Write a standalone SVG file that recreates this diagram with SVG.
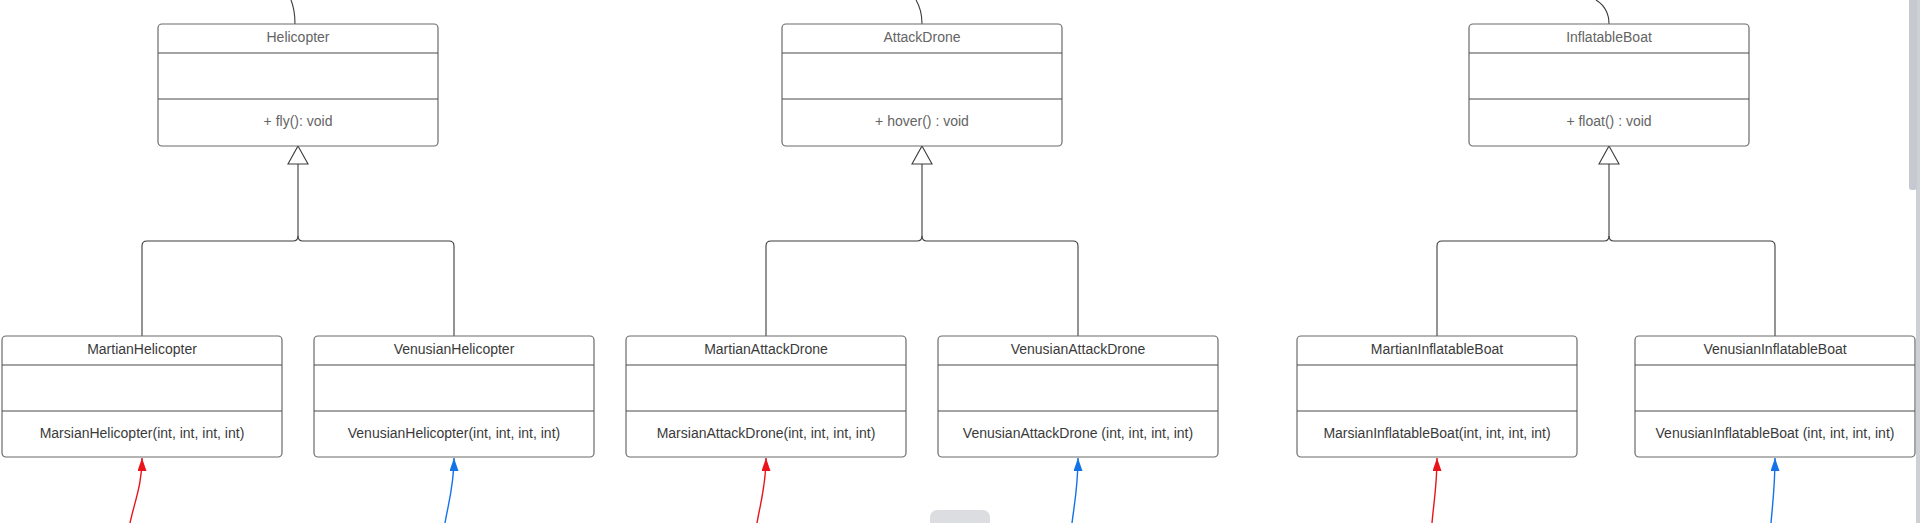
<svg xmlns="http://www.w3.org/2000/svg" width="1920" height="523" viewBox="0 0 1920 523">
<style>
.box{fill:#fff;stroke:#6b6b6b;stroke-width:1.2}
.div{stroke:#4a4a4a;stroke-width:1.2}
.t1{font-family:"Liberation Sans",Arial,sans-serif;font-size:14px;fill:#646464;text-anchor:middle}
.t2{font-family:"Liberation Sans",Arial,sans-serif;font-size:14px;fill:#3a3a3a;text-anchor:middle}
.ln{fill:none;stroke:#3c3c3c;stroke-width:1.1}
.tri{fill:#fff;stroke:#3c3c3c;stroke-width:1.1}
.red{fill:none;stroke:#e8151b;stroke-width:1.4}
.blue{fill:none;stroke:#1473e6;stroke-width:1.4}
</style>
<defs>
<marker id="ar" markerUnits="userSpaceOnUse" markerWidth="14" markerHeight="10" refX="13" refY="4.5" orient="auto"><path d="M0,0 L13,4.5 L0,9 z" fill="#e8151b"/></marker>
<marker id="ab" markerUnits="userSpaceOnUse" markerWidth="14" markerHeight="10" refX="13" refY="4.5" orient="auto"><path d="M0,0 L13,4.5 L0,9 z" fill="#1473e6"/></marker>
</defs>
<rect width="1920" height="523" fill="#fff"/>

<g id="connectors">
<path class="ln" d="M291,0 Q295,10 295,24"/>
<path class="ln" d="M916,0 Q922,10 922,24"/>
<path class="ln" d="M1596,0 Q1609,8 1609,24"/>
<!-- helicopter inheritance -->
<path class="ln" d="M298,164 L298,236 Q298,241 293,241 L147,241 Q142,241 142,246 L142,336"/>
<path class="ln" d="M298,236 Q298,241 303,241 L449,241 Q454,241 454,246 L454,336"/>
<polygon class="tri" points="298,146 308,164 288,164"/>
<!-- attack drone inheritance -->
<path class="ln" d="M922,164 L922,236 Q922,241 917,241 L771,241 Q766,241 766,246 L766,336"/>
<path class="ln" d="M922,236 Q922,241 927,241 L1073,241 Q1078,241 1078,246 L1078,336"/>
<polygon class="tri" points="922,146 932,164 912,164"/>
<!-- inflatable inheritance -->
<path class="ln" d="M1609,164 L1609,236 Q1609,241 1604,241 L1442,241 Q1437,241 1437,246 L1437,336"/>
<path class="ln" d="M1609,236 Q1609,241 1614,241 L1770,241 Q1775,241 1775,246 L1775,336"/>
<polygon class="tri" points="1609,146 1619,164 1599,164"/>
<!-- colored arrows -->
<path class="red" marker-end="url(#ar)" d="M130,523 C135,500 142,485 142,458"/>
<path class="blue" marker-end="url(#ab)" d="M445,523 C449,500 454,485 454,458"/>
<path class="red" marker-end="url(#ar)" d="M757,523 C761,500 766,485 766,458"/>
<path class="blue" marker-end="url(#ab)" d="M1072,523 C1075,500 1078,485 1078,458"/>
<path class="red" marker-end="url(#ar)" d="M1432,523 C1434,500 1437,485 1437,458"/>
<path class="blue" marker-end="url(#ab)" d="M1771,523 C1773,500 1775,485 1775,458"/>
</g>

<g id="Helicopter">
<rect class="box" x="158" y="24" width="280" height="122" rx="4"/>
<line class="div" x1="158" y1="53" x2="438" y2="53"/>
<line class="div" x1="158" y1="99" x2="438" y2="99"/>
<text class="t1" x="298" y="42">Helicopter</text>
<text class="t1" x="298" y="126">+ fly(): void</text>
</g>
<g id="AttackDrone">
<rect class="box" x="782" y="24" width="280" height="122" rx="4"/>
<line class="div" x1="782" y1="53" x2="1062" y2="53"/>
<line class="div" x1="782" y1="99" x2="1062" y2="99"/>
<text class="t1" x="922" y="42">AttackDrone</text>
<text class="t1" x="922" y="126">+ hover() : void</text>
</g>
<g id="InflatableBoat">
<rect class="box" x="1469" y="24" width="280" height="122" rx="4"/>
<line class="div" x1="1469" y1="53" x2="1749" y2="53"/>
<line class="div" x1="1469" y1="99" x2="1749" y2="99"/>
<text class="t1" x="1609" y="42">InflatableBoat</text>
<text class="t1" x="1609" y="126">+ float() : void</text>
</g>

<g id="MartianHelicopter">
<rect class="box" x="2" y="336" width="280" height="121" rx="4"/>
<line class="div" x1="2" y1="365" x2="282" y2="365"/>
<line class="div" x1="2" y1="411" x2="282" y2="411"/>
<text class="t2" x="142" y="354">MartianHelicopter</text>
<text class="t2" x="142" y="438">MarsianHelicopter(int, int, int, int)</text>
</g>
<g id="VenusianHelicopter">
<rect class="box" x="314" y="336" width="280" height="121" rx="4"/>
<line class="div" x1="314" y1="365" x2="594" y2="365"/>
<line class="div" x1="314" y1="411" x2="594" y2="411"/>
<text class="t2" x="454" y="354">VenusianHelicopter</text>
<text class="t2" x="454" y="438">VenusianHelicopter(int, int, int, int)</text>
</g>
<g id="MartianAttackDrone">
<rect class="box" x="626" y="336" width="280" height="121" rx="4"/>
<line class="div" x1="626" y1="365" x2="906" y2="365"/>
<line class="div" x1="626" y1="411" x2="906" y2="411"/>
<text class="t2" x="766" y="354">MartianAttackDrone</text>
<text class="t2" x="766" y="438">MarsianAttackDrone(int, int, int, int)</text>
</g>
<g id="VenusianAttackDrone">
<rect class="box" x="938" y="336" width="280" height="121" rx="4"/>
<line class="div" x1="938" y1="365" x2="1218" y2="365"/>
<line class="div" x1="938" y1="411" x2="1218" y2="411"/>
<text class="t2" x="1078" y="354">VenusianAttackDrone</text>
<text class="t2" x="1078" y="438">VenusianAttackDrone (int, int, int, int)</text>
</g>
<g id="MartianInflatableBoat">
<rect class="box" x="1297" y="336" width="280" height="121" rx="4"/>
<line class="div" x1="1297" y1="365" x2="1577" y2="365"/>
<line class="div" x1="1297" y1="411" x2="1577" y2="411"/>
<text class="t2" x="1437" y="354">MartianInflatableBoat</text>
<text class="t2" x="1437" y="438">MarsianInflatableBoat(int, int, int, int)</text>
</g>
<g id="VenusianInflatableBoat">
<rect class="box" x="1635" y="336" width="280" height="121" rx="4"/>
<line class="div" x1="1635" y1="365" x2="1915" y2="365"/>
<line class="div" x1="1635" y1="411" x2="1915" y2="411"/>
<text class="t2" x="1775" y="354">VenusianInflatableBoat</text>
<text class="t2" x="1775" y="438">VenusianInflatableBoat (int, int, int, int)</text>
</g>

<rect x="1916" y="0" width="4" height="523" fill="#cdd1d6"/>
<rect x="1909" y="-4" width="8" height="194" rx="3" fill="#c6cad0"/>
<rect x="930" y="510" width="60" height="20" rx="7" fill="#dcdde0"/>
</svg>
